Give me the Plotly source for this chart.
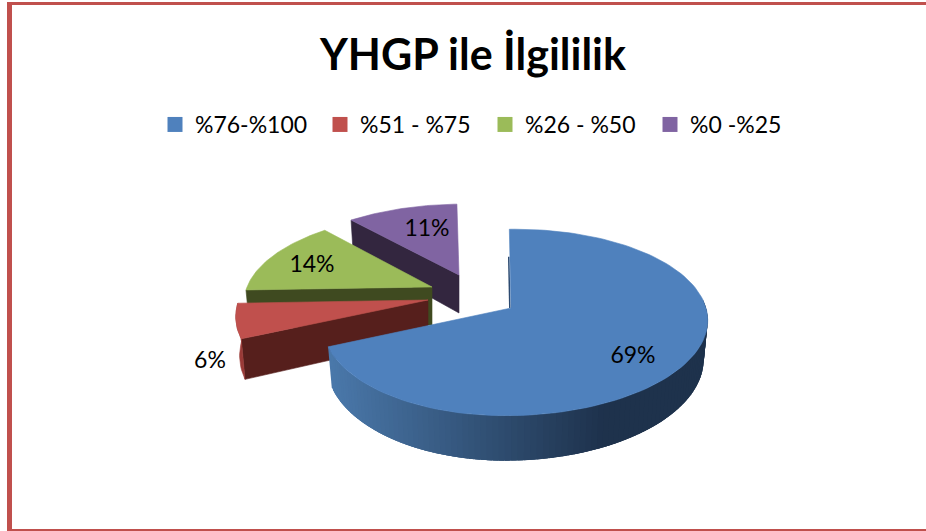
import math
import plotly.graph_objects as go

# ---- data ----
categories = ["%76-%100", "%51 - %75", "%26 - %50", "%0 -%25"]
shares = [69, 6, 14, 11]
title_text = "YHGP ile İlgililik"

# ---- styles and layout constants ----
W, H = 926, 531
FONT = "Lato, Carlito, Calibri, sans-serif"
TOP = ["#4f81bd", "#c0504d", "#9bbb59", "#8064a2"]
WALL = ["#2c4a70", "#561f1c", "#3f4a20", "#33263f"]
SIDE_RED = "#9a3a37"
BORDER = "#c0504d"
APEX = [(511, 308), (428, 300), (432, 287), (459, 275)]
SCALE = [1.0, 1.0, 0.93, 0.9]
LEFT_X = [0.95, 0.97, 1.02, 1.06]
LABEL_POS = [(633, 357), (210, 362), (312, 266), (427, 230)]
ROT = -2.0
RX, RY, K, DEPTH, DRIFT, SKEW = 195.0, 91.0, 0.155, 38.0, 0.02, 0.05


def proj(i, theta):
    t = math.radians(theta)
    x, y = math.sin(t), math.cos(t)
    w = 1 + K * y
    s = SCALE[i]
    dx, dy = RX * s * x / w, -RY * s * y / w
    if dx < 0:
        dx *= LEFT_X[i]
    return dx - SKEW * dy, dy, w


def top_pt(i, theta):
    dx, dy, _ = proj(i, theta)
    return APEX[i][0] + dx, APEX[i][1] + dy


def bot_pt(i, theta):
    dx, dy, w = proj(i, theta)
    return APEX[i][0] + dx * (1 - DRIFT), APEX[i][1] + dy + DEPTH / w


def poly(points, color, width=0.6):
    xs = [p[0] for p in points] + [points[0][0]]
    ys = [p[1] for p in points] + [points[0][1]]
    return go.Scatter(x=xs, y=ys, mode="lines", fill="toself", fillcolor=color,
                      line=dict(color=color, width=width), hoverinfo="skip", showlegend=False)


def frange(a, b, n):
    return [a + (b - a) * i / n for i in range(n + 1)]


def mix(c1, c2, f):
    return "rgb(%d,%d,%d)" % tuple(round(a + (b - a) * f) for a, b in zip(c1, c2))


# slice angle spans, clockwise from top, taken from the shares
total = sum(shares)
spans = []
start = ROT
for v in shares:
    end = start + 360.0 * v / total
    spans.append((start, end))
    start = end

fig = go.Figure()

# back to front: purple, green, red, blue
for i in [3, 2, 1]:
    a, b = spans[i]
    ap = APEX[i]
    # cut face at the start angle
    fig.add_trace(poly([ap, top_pt(i, a), bot_pt(i, a), (ap[0], ap[1] + DEPTH)], WALL[i]))
    # outer rim (only the red slice faces the viewer)
    if i == 1:
        arc = frange(a, b, 12)
        rim = [top_pt(i, t) for t in arc] + [bot_pt(i, t) for t in reversed(arc)]
        fig.add_trace(poly(rim, SIDE_RED))
    pts = [ap] + [top_pt(i, t) for t in frange(a, b, 40)]
    fig.add_trace(poly(pts, TOP[i]))

# blue rim as a shaded band, each strip overlapping the next one to avoid seams
a, b = spans[0]
rim_from, rim_to = 85.0, b
angles = frange(rim_to, rim_from, 100)
LIGHT, DARK = (74, 120, 170), (30, 50, 76)
for t0, t1 in zip(angles[:-1], angles[1:]):
    x_mid = top_pt(0, (t0 + t1) / 2)[0]
    f = max(0.0, min(1.0, (x_mid - 330) / (603 - 330)))
    col = mix(LIGHT, DARK, f)
    tail = max(t1 - 3, rim_from)
    arc = frange(t0, tail, 4)
    fig.add_trace(poly([top_pt(0, t) for t in arc] + [bot_pt(0, t) for t in reversed(arc)], col, 0))

# thin sliver of the blue slice's cut face, along the lower part of its start edge
sx, sy = top_pt(0, a)
ax, ay = APEX[0]
fig.add_trace(go.Scatter(
    x=[ax + (sx - ax) * 0.65 - 1.2, ax - 1.2], y=[ay + (sy - ay) * 0.65, ay],
    mode="lines", line=dict(color=WALL[0], width=1.5), hoverinfo="skip", showlegend=False))

pts = [APEX[0]] + [top_pt(0, t) for t in frange(a, b, 120)]
fig.add_trace(poly(pts, TOP[0]))

# value labels
fig.add_trace(go.Scatter(
    x=[p[0] for p in LABEL_POS], y=[p[1] for p in LABEL_POS],
    text=[f"{v}%" for v in shares], mode="text",
    textposition="middle center", textfont=dict(family=FONT, size=23, color="#000000"),
    hoverinfo="skip", showlegend=False))

# legend entries
for name, color in zip(categories, TOP):
    fig.add_trace(go.Scatter(x=[None], y=[None], mode="markers", name=name,
                             marker=dict(symbol="square", size=15, color=color)))

# border
shapes = [
    dict(type="rect", xref="x", yref="y", x0=7, x1=W, y0=2, y1=5, fillcolor=BORDER, line_width=0),
    dict(type="rect", xref="x", yref="y", x0=7, x1=12, y0=2, y1=H, fillcolor=BORDER, line_width=0),
    dict(type="rect", xref="x", yref="y", x0=7, x1=W, y0=529, y1=H, fillcolor=BORDER, line_width=0),
]

fig.update_layout(
    width=W, height=H, autosize=False,
    margin=dict(l=0, r=0, t=0, b=0),
    paper_bgcolor="#ffffff", plot_bgcolor="#ffffff",
    xaxis=dict(range=[0, W], visible=False, fixedrange=True),
    yaxis=dict(range=[H, 0], visible=False, fixedrange=True),
    shapes=shapes,
    title=dict(text=f"<b>{title_text}</b>", x=473 / W, xanchor="center", y=1 - 55 / H, yanchor="middle",
               font=dict(family=FONT, size=43, color="#000000")),
    legend=dict(orientation="h", x=155 / W, xanchor="left", y=1 - 103 / H, yanchor="top",
                font=dict(family=FONT, size=23, color="#000000"),
                itemwidth=30, entrywidth=120, entrywidthmode="pixels",
                bgcolor="rgba(0,0,0,0)", traceorder="normal", itemclick=False, itemdoubleclick=False),
)

fig.write_html("out.html", config=dict(displayModeBar=False),
               post_script="document.body.style.margin='0';document.documentElement.style.overflow='hidden';")
